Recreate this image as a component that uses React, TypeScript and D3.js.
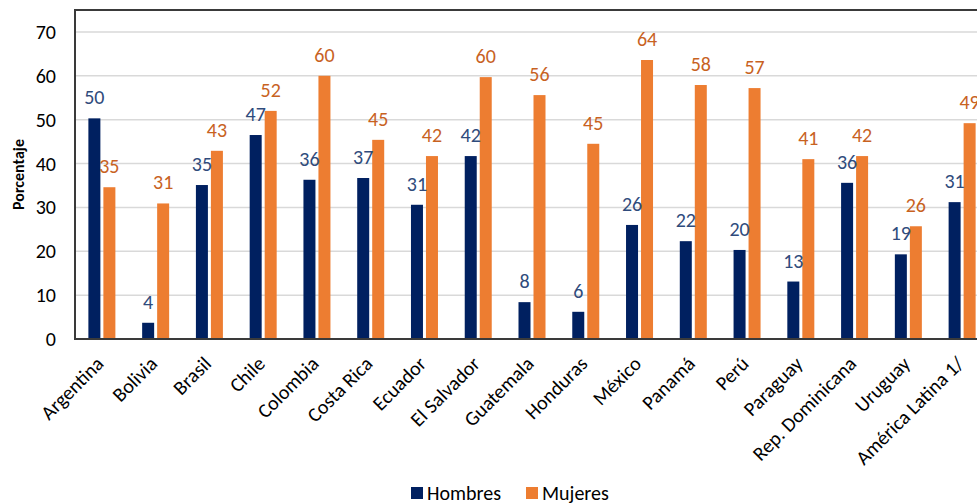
import React from "react";
import { scaleBand, scaleLinear } from "d3";

const categories = [
  "Argentina", "Bolivia", "Brasil", "Chile", "Colombia", "Costa Rica", "Ecuador",
  "El Salvador", "Guatemala", "Honduras", "México", "Panamá", "Perú", "Paraguay",
  "Rep. Dominicana", "Uruguay", "América Latina 1/",
];
const hombres = [50.3, 3.7, 35.1, 46.5, 36.3, 36.7, 30.6, 41.7, 8.4, 6.2, 26.0, 22.3, 20.3, 13.1, 35.6, 19.3, 31.2];
const mujeres = [34.6, 30.9, 42.9, 52.0, 60.0, 45.4, 41.7, 59.7, 55.6, 44.5, 63.6, 57.9, 57.2, 41.0, 41.7, 25.7, 49.2];
const yTicks = [0, 10, 20, 30, 40, 50, 60, 70];

const NAVY = "#002060";
const ORANGE = "#ED7D31";
const NAVY_LABEL = "#2F4B7C";
const ORANGE_LABEL = "#C8621F";
const FONT = "Calibri, Carlito, 'Open Sans', sans-serif";

export default function App() {
  const W = 977;
  const H = 504;
  const left = 75, top = 10, bottom = 339;
  const plotRight = 989;

  const x = scaleBand<string>().domain(categories).range([left, plotRight]);
  const y = scaleLinear().domain([0, 75]).range([bottom, top]);
  const barW = 12;
  const gap = 3;

  return (
    <svg width={W} height={H} style={{ display: "block", position: "absolute", left: 0, top: 0 }} fontFamily={FONT}>
      <rect width={W} height={H} fill="#fff" />
      {yTicks.map((t) => (
        <g key={t}>
          {t > 0 && (
            <line x1={left} x2={plotRight} y1={y(t)} y2={y(t)} stroke="#D9D9D9" strokeWidth={1.5} />
          )}
          <text x={56} y={y(t)} dy="0.35em" textAnchor="end" fontSize={20} fill="#000">
            {t}
          </text>
        </g>
      ))}
      {categories.map((c, i) => {
        const cx = (x(c) as number) + x.bandwidth() / 2;
        const hx = cx - gap / 2 - barW;
        const mx = cx + gap / 2;
        return (
          <g key={c}>
            <rect x={hx} y={y(hombres[i])} width={barW} height={bottom - y(hombres[i])} fill={NAVY} />
            <rect x={mx} y={y(mujeres[i])} width={barW} height={bottom - y(mujeres[i])} fill={ORANGE} />
            <text x={hx + barW / 2} y={y(hombres[i]) - 21} dy="0.35em" textAnchor="middle" fontSize={20} fill={NAVY_LABEL}>
              {Math.round(hombres[i])}
            </text>
            <text x={mx + barW / 2} y={y(mujeres[i]) - 21} dy="0.35em" textAnchor="middle" fontSize={20} fill={ORANGE_LABEL}>
              {Math.round(mujeres[i])}
            </text>
            <text
              transform={`translate(${cx + 3},${bottom + 26}) rotate(-45)`}
              textAnchor="end"
              fontSize={20}
              fill="#000"
            >
              {c}
            </text>
          </g>
        );
      })}
      <path d={`M${plotRight},${top}H${left}V${bottom}H${plotRight}`} fill="none" stroke="#3A3A3A" strokeWidth={2} />
      <text
        transform={`translate(18,${(top + bottom) / 2}) rotate(-90)`}
        textAnchor="middle"
        dy="0.35em"
        fontSize={16}
        fontWeight="bold"
        fill="#000"
      >
        Porcentaje
      </text>
      <g transform="translate(411,487)">
        <rect x={0} y={0} width={12} height={12} fill={NAVY} />
        <text x={16} y={6} dy="0.35em" fontSize={20} fill="#000">Hombres</text>
        <rect x={115} y={0} width={12} height={12} fill={ORANGE} />
        <text x={131} y={6} dy="0.35em" fontSize={20} fill="#000">Mujeres</text>
      </g>
    </svg>
  );
}
